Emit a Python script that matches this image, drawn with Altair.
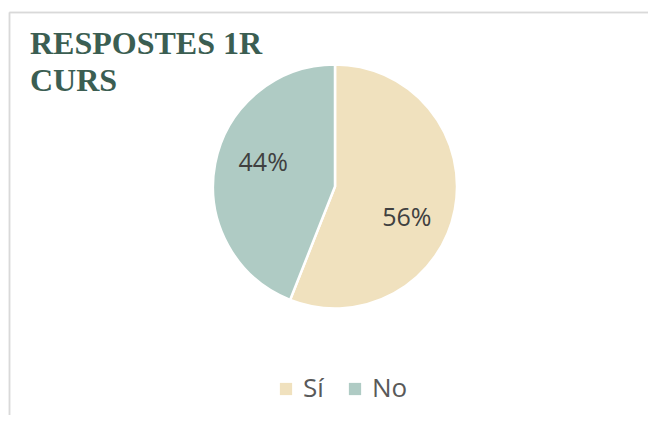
import altair as alt
import pandas as pd

categories = ["Sí", "No"]
values = [56, 44]
labels = ["56%", "44%"]
colors = ["#F0E1BE", "#AFCBC4"]
title_lines = ["RESPOSTES 1R", "CURS"]

df = pd.DataFrame({"cat": categories, "val": values, "label": labels, "ordre": list(range(len(categories)))})

cx, cy = 327, 178.5

base = alt.Chart(df)

pie = base.mark_arc(outerRadius=122, stroke="white", strokeWidth=2.5).encode(
    theta=alt.Theta("val:Q", stack=True),
    order=alt.Order("ordre:Q"),
    color=alt.Color(
        "cat:N",
        scale=alt.Scale(domain=categories, range=colors),
        sort=categories,
        legend=alt.Legend(
            title=None,
            orient="none",
            direction="horizontal",
            legendX=265,
            legendY=368,
            symbolType="square",
            symbolSize=150,
            symbolStrokeWidth=0,
            labelFontSize=26,
            labelFont="Open Sans",
            labelColor="#595959",
            labelOffset=4,
            columnPadding=18,
        ),
    ),
    x=alt.value(cx),
    y=alt.value(cy),
)

text = base.mark_text(radius=77, fontSize=25, font="Open Sans", color="#404040",
                      align="center", baseline="middle", dy=4).encode(
    theta=alt.Theta("val:Q", stack=True, scale=alt.Scale(range=[0.18, 6.4632])),
    order=alt.Order("ordre:Q"),
    text="label:N",
    x=alt.value(cx),
    y=alt.value(cy),
)

border = base.mark_rule(color="#D9D9D9", strokeWidth=1.5).encode(
    x=alt.value(1.5), y=alt.value(4.5), y2=alt.value(500)
)
border_top = base.mark_rule(color="#D9D9D9", strokeWidth=1.5).encode(
    x=alt.value(1.5), x2=alt.value(700), y=alt.value(4.5)
)

chart = alt.layer(border, border_top, pie, text).resolve_scale(theta="independent").properties(
    width=640,
    height=407,
    autosize=alt.AutoSizeParams(type="none"),
    padding=0,
    title=alt.Title(
        text=title_lines,
        anchor="start",
        orient="top",
        frame="group",
        baseline="top",
        font="Liberation Serif",
        fontSize=32,
        fontWeight="bold",
        color="#3B5E52",
        lineHeight=37,
        offset=0,
        dx=22,
        dy=90,
    ),
).configure_view(stroke=None)

chart.save("out.html", embed_options={"renderer": "svg", "actions": False})
